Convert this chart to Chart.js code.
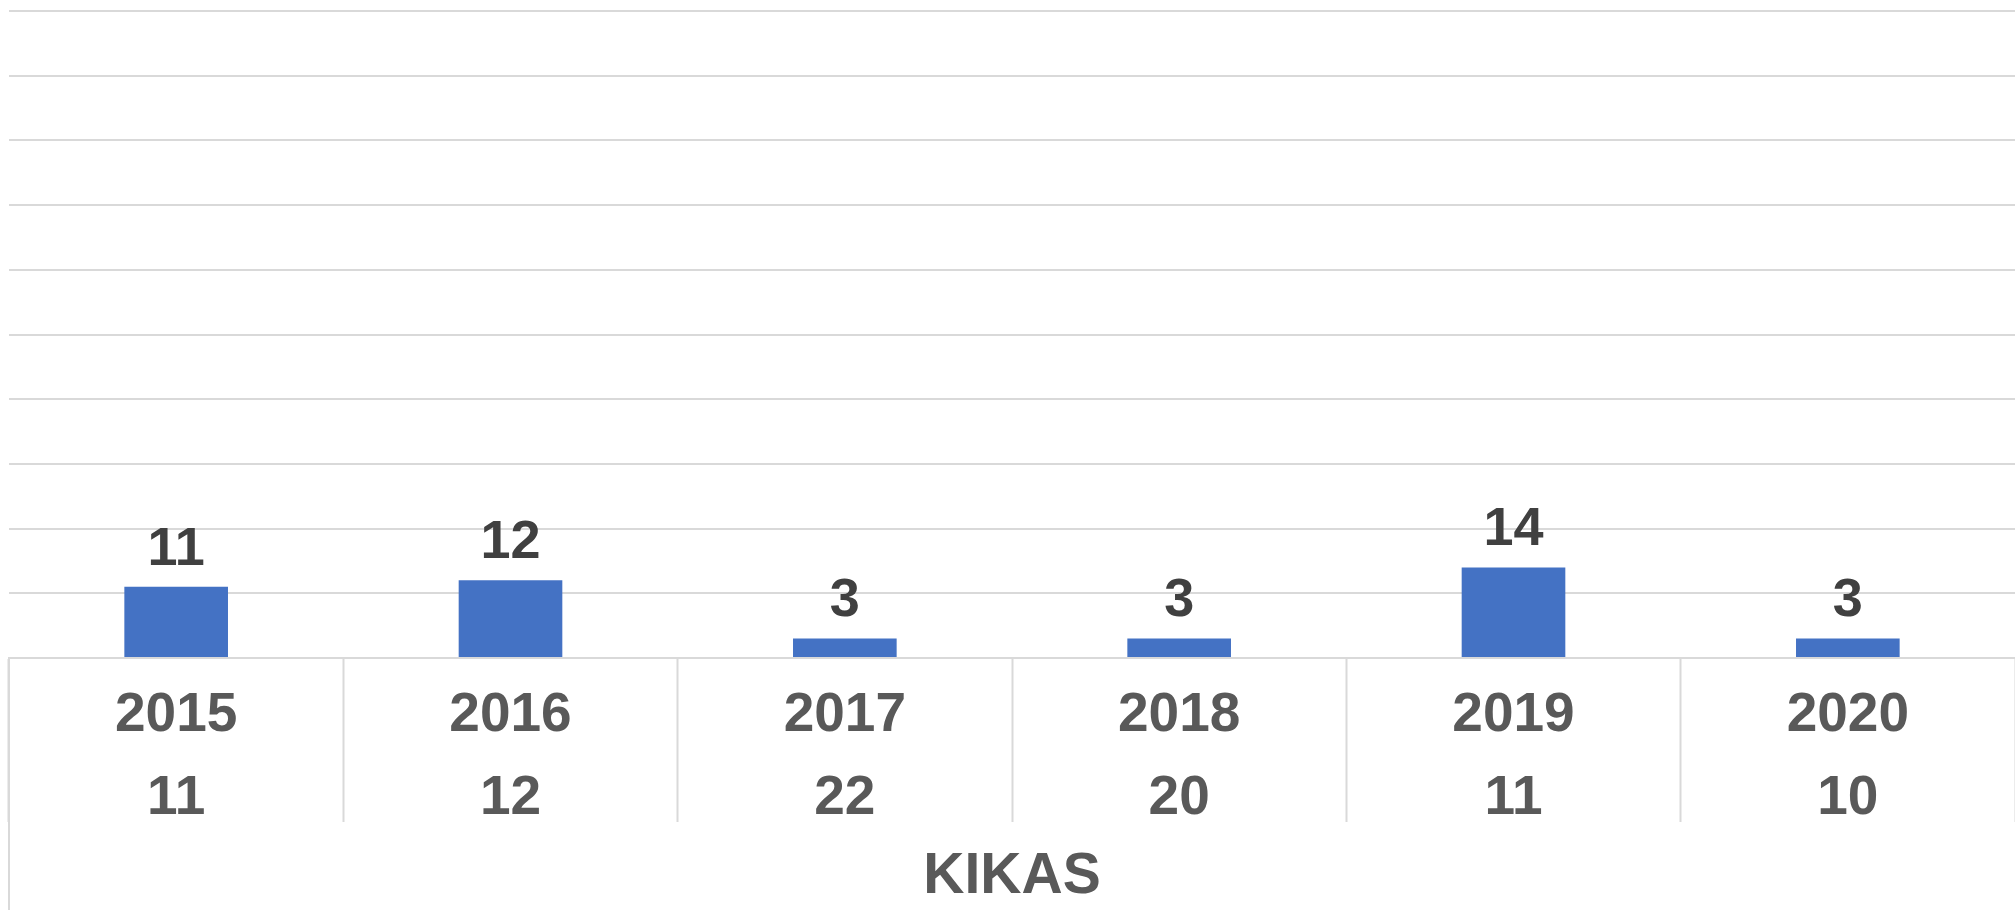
<!DOCTYPE html>
<html>
<head>
<meta charset="utf-8">
<script src="https://cdn.jsdelivr.net/npm/chart.js@4.4.0/dist/chart.umd.min.js"></script>
<style>
  html, body { margin: 0; padding: 0; background: #ffffff; }
  #wrap { width: 2015px; height: 910px; position: relative; }
</style>
</head>
<body>
<div id="wrap"><canvas id="myChart"></canvas></div>
<script>
const years = ['2015', '2016', '2017', '2018', '2019', '2020'];
const barValues = [11, 12, 3, 3, 14, 3];
const tableValues = [11, 12, 22, 20, 11, 10];
const axisTitle = 'KIKAS';
const yTicks = [0, 10, 20, 30, 40, 50, 60, 70, 80, 90, 100];

const labelFont = 'Liberation Sans, Arial, sans-serif';

// value labels above each bar
const valueLabels = {
    id: 'valueLabels',
    afterDatasetsDraw(chart) {
        const ctx = chart.ctx;
        const meta = chart.getDatasetMeta(0);
        ctx.save();
        ctx.font = 'bold 54px ' + labelFont;
        ctx.fillStyle = '#404040';
        ctx.textAlign = 'center';
        ctx.textBaseline = 'middle';
        meta.data.forEach((bar, i) => {
            ctx.fillText(String(barValues[i]), bar.x, bar.y - 37);
        });
        ctx.restore();
    }
};

// left border of the table under the axis
const tableEdge = {
    id: 'tableEdge',
    afterDraw(chart) {
        const x = chart.scales.x;
        const ctx = chart.ctx;
        ctx.save();
        ctx.strokeStyle = '#d9d9d9';
        ctx.lineWidth = 2;
        ctx.beginPath();
        ctx.moveTo(x.left, x.top);
        ctx.lineTo(x.left, chart.height);
        ctx.stroke();
        ctx.restore();
    }
};

const ctx = document.getElementById('myChart');

new Chart(ctx, {
    type: 'bar',
    data: {
        labels: years.map((y, i) => [y, String(tableValues[i])]),
        datasets: [{
            label: axisTitle,
            data: barValues,
            backgroundColor: '#4472C4',
            categoryPercentage: 1,
            barPercentage: 0.31
        }]
    },
    options: {
        responsive: true,
        maintainAspectRatio: false,
        animation: false,
        layout: { padding: { top: 11, left: 9, right: 0, bottom: 0 } },
        plugins: {
            legend: { display: false },
            tooltip: { enabled: false }
        },
        scales: {
            x: {
                afterFit: (scale) => { scale.height = 252; },
                grid: {
                    offset: true,
                    drawOnChartArea: false,
                    drawTicks: true,
                    tickLength: 164,
                    tickColor: '#d9d9d9',
                    tickWidth: 2
                },
                border: { display: true, color: '#d9d9d9', width: 2 },
                ticks: {
                    color: '#595959',
                    padding: -148,
                    maxRotation: 0,
                    autoSkip: false,
                    font: { family: labelFont, size: 55, weight: 'bold', lineHeight: 1.51 }
                },
                title: {
                    display: true,
                    text: axisTitle,
                    color: '#595959',
                    padding: { top: 7, bottom: 0 },
                    font: { family: labelFont, size: 57, weight: 'bold', lineHeight: 1.14 }
                }
            },
            y: {
                min: yTicks[0],
                max: yTicks[yTicks.length - 1],
                afterBuildTicks: (axis) => { axis.ticks = yTicks.map(v => ({ value: v })); },
                grid: { color: '#d9d9d9', lineWidth: 2, drawTicks: false },
                border: { display: false },
                ticks: { display: false }
            }
        }
    },
    plugins: [valueLabels, tableEdge]
});
</script>
</body>
</html>
